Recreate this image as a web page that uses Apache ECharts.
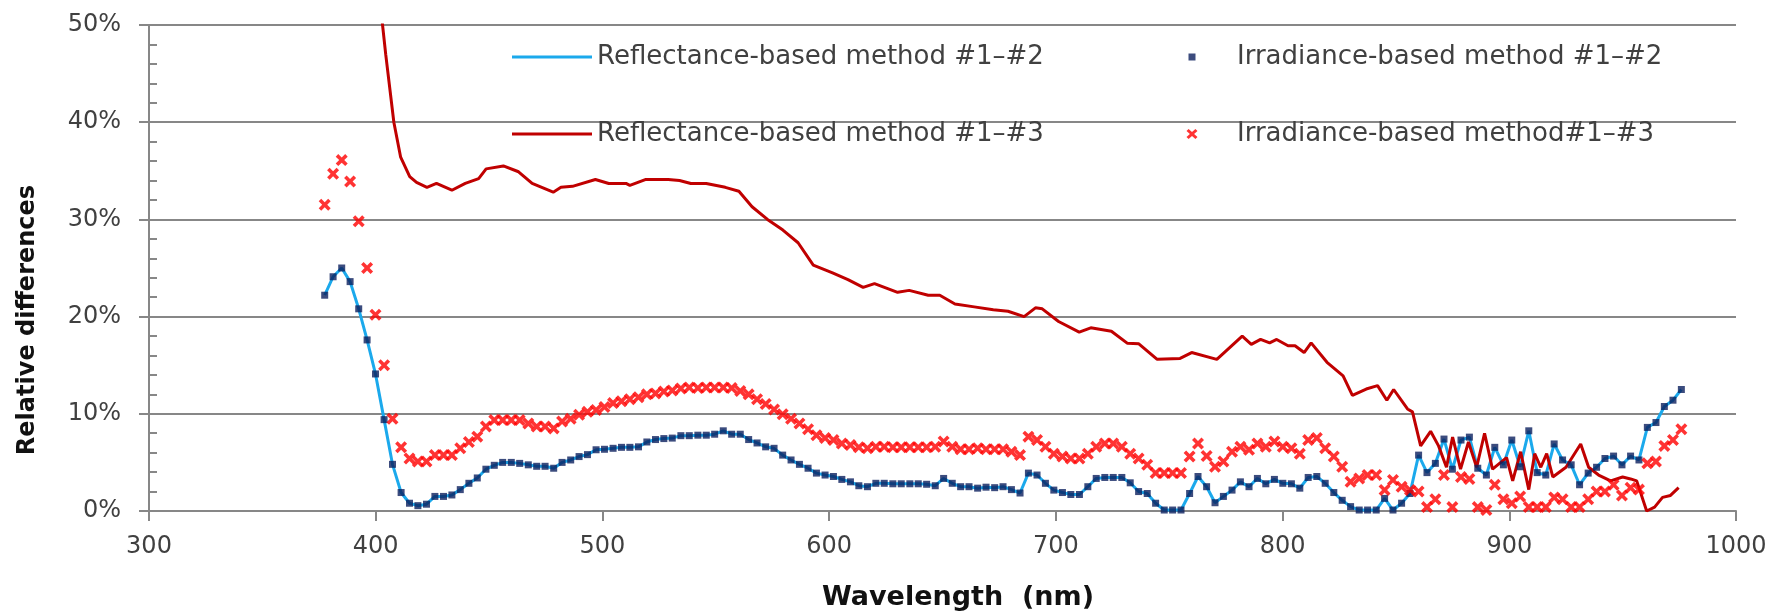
<!DOCTYPE html>
<html>
<head>
<meta charset="utf-8">
<script src="https://cdn.jsdelivr.net/npm/echarts@6/dist/echarts.min.js"></script>
<style>
  html, body { margin: 0; padding: 0; background: #ffffff; }
  #chart { width: 1779px; height: 614px; }
</style>
</head>
<body>
<div id="chart"></div>
<script>
// Sampled wavelengths (nm) shared by the #1–#2 curve and the irradiance #1–#3 points
const wavelengths = [
  377.5, 381.2, 385.0, 388.7, 392.5, 396.2, 399.9, 403.7, 407.4, 411.2,
  414.9, 418.6, 422.4, 426.1, 429.9, 433.6, 437.3, 441.1, 444.8, 448.6,
  452.3, 456.0, 459.8, 463.5, 467.3, 471.0, 474.7, 478.5, 482.2, 486.0,
  489.7, 493.4, 497.2, 500.9, 504.7, 508.4, 512.1, 515.9, 519.6, 523.4,
  527.1, 530.8, 534.6, 538.3, 542.1, 545.8, 549.5, 553.3, 557.0, 560.8,
  564.5, 568.2, 572.0, 575.7, 579.5, 583.2, 586.9, 590.7, 594.4, 598.2,
  601.9, 605.6, 609.4, 613.1, 616.9, 620.6, 624.3, 628.1, 631.8, 635.6,
  639.3, 643.0, 646.8, 650.5, 654.3, 658.0, 661.7, 665.5, 669.2, 673.0,
  676.7, 680.4, 684.2, 687.9, 691.7, 695.4, 699.1, 702.9, 706.6, 710.4,
  714.1, 717.8, 721.6, 725.3, 729.1, 732.8, 736.5, 740.3, 744.0, 747.8,
  751.5, 755.2, 759.0, 762.7, 766.5, 770.2, 773.9, 777.7, 781.4, 785.2,
  788.9, 792.6, 796.4, 800.1, 803.9, 807.6, 811.3, 815.1, 818.8, 822.6,
  826.3, 830.0, 833.8, 837.5, 841.3, 845.0, 848.7, 852.5, 856.2, 860.0,
  863.7, 867.4, 871.2, 874.9, 878.7, 882.4, 886.1, 889.9, 893.6, 897.4,
  901.1, 904.8, 908.6, 912.3, 916.1, 919.8, 923.5, 927.3, 931.0, 934.8,
  938.5, 942.2, 946.0, 949.7, 953.5, 957.2, 960.9, 964.7, 968.4, 972.2,
  975.9
];

// Relative difference #1–#2 (%); the reflectance- and irradiance-based methods coincide
const diff12 = [
  22.2, 24.1, 25.0, 23.6, 20.8, 17.6, 14.1, 9.4, 4.8, 1.9,
  0.8, 0.55, 0.7, 1.5, 1.5, 1.65, 2.2, 2.85, 3.4, 4.3,
  4.7, 5.0, 5.0, 4.9, 4.75, 4.6, 4.6, 4.4, 5.0, 5.25,
  5.6, 5.8, 6.3, 6.35, 6.45, 6.55, 6.55, 6.6, 7.1, 7.35,
  7.45, 7.5, 7.75, 7.75, 7.8, 7.8, 7.9, 8.25, 7.9, 7.9,
  7.35, 7.0, 6.6, 6.45, 5.75, 5.25, 4.8, 4.4, 3.9, 3.7,
  3.55, 3.25, 3.0, 2.6, 2.5, 2.85, 2.85, 2.8, 2.8, 2.8,
  2.8, 2.75, 2.6, 3.35, 2.85, 2.5, 2.5, 2.35, 2.45, 2.4,
  2.5, 2.2, 1.85, 3.9, 3.7, 2.85, 2.15, 1.9, 1.7, 1.7,
  2.5, 3.35, 3.45, 3.45, 3.45, 2.9, 2.0, 1.8, 0.8, 0.1,
  0.1, 0.1, 1.8, 3.55, 2.5, 0.85, 1.5, 2.15, 3.0, 2.5,
  3.35, 2.8, 3.25, 2.85, 2.8, 2.35, 3.45, 3.55, 2.85, 1.9,
  1.1, 0.45, 0.1, 0.1, 0.1, 1.3, 0.1, 0.8, 1.8, 5.75,
  3.95, 4.9, 7.4, 4.3, 7.3, 7.6, 4.4, 3.7, 6.55, 4.75,
  7.3, 4.55, 8.25, 3.95, 3.7, 6.9, 5.25, 4.75, 2.7, 3.9,
  4.5, 5.4, 5.65, 4.75, 5.65, 5.25, 8.6, 9.1, 10.75, 11.4,
  12.5
];

// Irradiance-based relative difference #1–#3 (%)
const irradiance13 = [
  31.5, 34.7, 36.1, 33.9, 29.8, 25.0, 20.2, 15.0, 9.5, 6.55,
  5.4, 5.1, 5.1, 5.75, 5.75, 5.75, 6.45, 7.1, 7.65, 8.7,
  9.35, 9.35, 9.35, 9.35, 9.0, 8.7, 8.7, 8.5, 9.2, 9.5,
  9.9, 10.2, 10.4, 10.7, 11.1, 11.3, 11.5, 11.7, 12.0, 12.1,
  12.3, 12.4, 12.6, 12.7, 12.65, 12.7, 12.7, 12.7, 12.65, 12.35,
  12.0, 11.5, 11.0, 10.45, 9.95, 9.5, 9.0, 8.4, 7.8, 7.5,
  7.3, 6.95, 6.8, 6.55, 6.45, 6.6, 6.6, 6.55, 6.55, 6.55,
  6.55, 6.55, 6.6, 7.15, 6.6, 6.35, 6.35, 6.45, 6.35, 6.35,
  6.35, 6.1, 5.75, 7.65, 7.3, 6.6, 5.9, 5.6, 5.4, 5.4,
  5.9, 6.6, 6.95, 6.95, 6.6, 5.9, 5.4, 4.75, 3.9, 3.9,
  3.9, 3.9, 5.6, 6.95, 5.65, 4.55, 5.1, 6.1, 6.6, 6.3,
  6.95, 6.6, 7.15, 6.6, 6.45, 5.9, 7.3, 7.5, 6.45, 5.6,
  4.55, 3.0, 3.35, 3.7, 3.7, 2.15, 3.2, 2.5, 2.15, 2.0,
  0.4, 1.2, 3.7, 0.4, 3.5, 3.3, 0.4, 0.1, 2.7, 1.2,
  0.8, 1.5, 0.4, 0.4, 0.4, 1.4, 1.2, 0.4, 0.4, 1.2,
  2.0, 2.0, 2.7, 1.6, 2.4, 2.2, 4.9, 5.1, 6.7, 7.3,
  8.4
];

// Reflectance-based relative difference #1–#3: wavelength (nm) and value (%)
const reflectance13Wl = [
  396.6, 400.7, 404.4, 408.0, 411.0, 415.0, 418.0, 422.6, 426.8, 433.6,
  439.5, 445.4, 448.7, 456.3, 463.0, 469.0, 478.3, 481.7, 486.8, 496.9,
  502.8, 510.4, 512.1, 518.9, 529.0, 534.0, 539.0, 545.8, 554.2, 560.2,
  566.0, 572.8, 579.6, 586.3, 593.0, 601.5, 608.3, 615.0, 620.0, 630.2,
  635.3, 643.7, 648.8, 655.5, 664.0, 672.4, 678.9, 686.0, 691.0, 694.0,
  701.2, 710.3, 715.4, 724.5, 731.6, 736.6, 744.7, 754.8, 759.9, 771.0,
  782.2, 786.2, 790.3, 794.3, 797.4, 802.4, 805.5, 809.5, 812.6, 819.6,
  826.7, 830.8, 836.9, 841.9, 846.0, 849.0, 855.1, 857.3, 860.9, 865.3,
  868.8, 872.3, 875.0, 878.5, 882.0, 885.6, 889.1, 892.6, 898.8, 901.5,
  905.0, 908.6, 911.2, 913.9, 916.5, 919.2, 925.0, 931.5, 935.0, 939.4,
  944.7, 950.0, 953.5, 956.2, 960.6, 964.1, 967.6, 971.1, 974.7
];
const reflectance13 = [
  66.0, 55.0, 47.0, 40.0, 36.4, 34.4, 33.8, 33.3, 33.7, 33.0,
  33.7, 34.2, 35.2, 35.5, 34.9, 33.7, 32.8, 33.3, 33.4, 34.1,
  33.7, 33.7, 33.5, 34.1, 34.1, 34.0, 33.7, 33.7, 33.3, 32.9,
  31.3, 30.0, 28.9, 27.6, 25.3, 24.5, 23.8, 23.0, 23.4, 22.5,
  22.7, 22.2, 22.2, 21.3, 21.0, 20.7, 20.55, 20.0, 20.9, 20.8,
  19.5, 18.4, 18.85, 18.5, 17.25, 17.2, 15.6, 15.7, 16.3, 15.6,
  18.0, 17.15, 17.65, 17.3, 17.65, 17.0, 17.0, 16.3, 17.3, 15.3,
  13.9, 11.9, 12.55, 12.9, 11.4, 12.5, 10.5, 10.2, 6.7, 8.2,
  6.7, 4.5, 7.6, 4.3, 7.1, 4.5, 8.0, 4.3, 5.5, 3.1,
  6.1, 2.2, 5.9, 4.5, 5.9, 3.5, 4.5, 6.9, 4.5, 3.7,
  3.1, 3.5, 3.3, 3.1, 0.0, 0.4, 1.4, 1.6, 2.4
];

const seriesNames = [
  'Reflectance-based method #1–#2',
  'Irradiance-based method #1–#2',
  'Reflectance-based method #1–#3',
  'Irradiance-based method#1–#3'
];

const pairs = (xs, ys) => xs.map((x, i) => [x, ys[i]]);

const FONT = 'DejaVu Sans';
const AXIS_GREY = '#878787';
const TEXT_GREY = '#404040';

// Marker shapes
const CROSS = 'path://M0,2.1L2.1,0L5,2.9L7.9,0L10,2.1L7.1,5L10,7.9L7.9,10L5,7.1L2.1,10L0,7.9L2.9,5Z';
// Legend icons: each path spans an 80×10 box so the text lines up in both columns
const ICON_LINE = 'path://M0,0L0,0M0,3.4L80,3.4L80,6.6L0,6.6ZM80,10L80,10';
const ICON_SQUARE = 'path://M0,0L0,0M36.5,1.5L43.5,1.5L43.5,8.5L36.5,8.5ZM80,10L80,10';
const ICON_CROSS = 'path://M0,0L0,0M80,10L80,10M34.5,2.1L36.6,0L40,3.1L43.4,0L45.5,2.1L42.1,5L45.5,7.9L43.4,10L40,6.9L36.6,10L34.5,7.9L37.9,5Z';

const legendBase = {
  orient: 'horizontal',
  padding: 0,
  selectedMode: false,
  itemWidth: 80,
  itemHeight: 10,
  symbolKeepAspect: true,
  textStyle: { fontFamily: FONT, fontSize: 26, color: TEXT_GREY }
};
const legendItem = (idx, icon, left, top) =>
  Object.assign({}, legendBase, { data: [{ name: seriesNames[idx], icon: icon }], left: left, top: top });

const chart = echarts.init(document.getElementById('chart'), null, { renderer: 'canvas' });

chart.setOption({
  backgroundColor: '#ffffff',
  animation: false,
  grid: { left: 149, right: 43, top: 25, bottom: 103, containLabel: false },
  legend: [
    legendItem(0, ICON_LINE, 512, 44),
    legendItem(1, ICON_SQUARE, 1152, 44),
    legendItem(2, ICON_LINE, 512, 121),
    legendItem(3, ICON_CROSS, 1152, 121)
  ],
  xAxis: {
    type: 'value',
    min: 300,
    max: 1000,
    interval: 100,
    axisLine: { show: true, lineStyle: { color: AXIS_GREY, width: 2 } },
    axisTick: { show: true, length: 10, lineStyle: { color: AXIS_GREY, width: 2 } },
    splitLine: { show: false },
    axisLabel: {
      margin: 24, fontFamily: FONT, fontSize: 24, color: TEXT_GREY,
      formatter: (v) => String(v)
    }
  },
  yAxis: [
    {
      type: 'value',
      position: 'left',
      min: 0,
      max: 50,
      interval: 10,
      axisLine: { show: true, lineStyle: { color: AXIS_GREY, width: 2 } },
      axisTick: { show: true, length: 10, lineStyle: { color: AXIS_GREY, width: 2 } },
      splitLine: { show: true, lineStyle: { color: AXIS_GREY, width: 2 } },
      axisLabel: { margin: 28, formatter: '{value}%', fontFamily: FONT, fontSize: 24, color: TEXT_GREY }
    },
    {
      // inner minor ticks every 2 %
      type: 'value',
      position: 'left',
      offset: 0,
      min: 0,
      max: 50,
      interval: 10,
      axisLine: { show: false },
      axisTick: { show: false, inside: true },
      minorTick: { show: true, splitNumber: 5, length: 8, lineStyle: { color: AXIS_GREY, width: 2 } },
      splitLine: { show: false },
      axisLabel: { show: false }
    }
  ],
  graphic: [
    {
      type: 'text',
      x: 28,
      y: 320,
      rotation: Math.PI / 2,
      style: {
        text: 'Relative differences',
        font: 'bold 24px "DejaVu Sans"',
        fill: '#111111',
        align: 'center',
        verticalAlign: 'middle'
      }
    },
    {
      type: 'text',
      x: 958,
      y: 598,
      style: {
        text: 'Wavelength  (nm)',
        font: 'bold 27px "DejaVu Sans"',
        fill: '#111111',
        align: 'center',
        verticalAlign: 'middle'
      }
    }
  ],
  series: [
    {
      name: seriesNames[0],
      type: 'line',
      data: pairs(wavelengths, diff12),
      symbol: 'none',
      lineStyle: { color: '#1BA9EC', width: 3 },
      itemStyle: { color: '#1BA9EC' },
      z: 2
    },
    {
      name: seriesNames[2],
      type: 'line',
      data: pairs(reflectance13Wl, reflectance13),
      symbol: 'none',
      clip: true,
      lineStyle: { color: '#C00000', width: 3 },
      itemStyle: { color: '#C00000' },
      z: 3
    },
    {
      name: seriesNames[1],
      type: 'scatter',
      data: pairs(wavelengths, diff12),
      symbol: 'rect',
      symbolSize: 7,
      clip: false,
      itemStyle: { color: '#0B1F5E' },
      z: 4
    },
    {
      name: seriesNames[3],
      type: 'scatter',
      data: pairs(wavelengths, irradiance13),
      symbol: CROSS,
      symbolSize: 12,
      clip: false,
      itemStyle: { color: '#FF0000' },
      z: 5
    }
  ]
});
</script>
</body>
</html>
